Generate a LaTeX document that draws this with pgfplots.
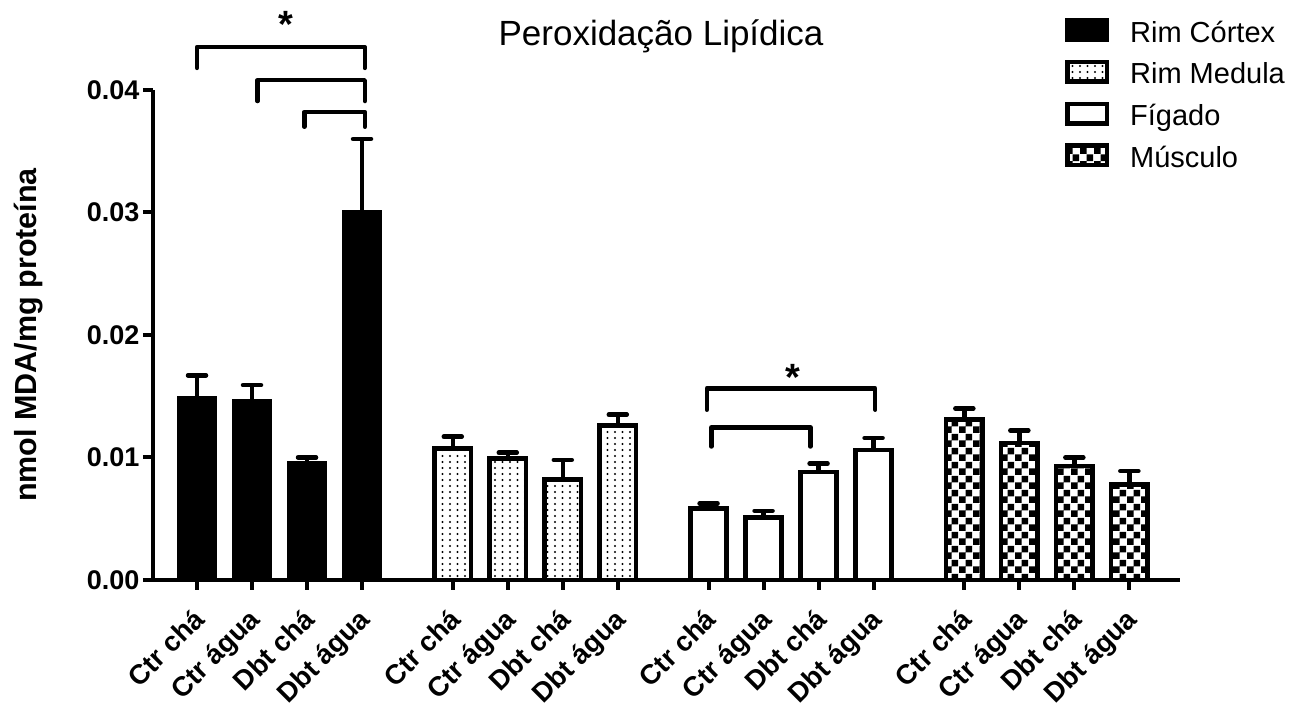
\documentclass[border=0pt]{standalone}
\usepackage{pgfplots}
\pgfplotsset{compat=1.18}
\usepackage{fontspec}
\setmainfont{Liberation Sans}
\usetikzlibrary{patterns}
\pgfdeclarepatternformonly{mydots}{\pgfqpoint{-1.5pt}{-1.5pt}}{\pgfqpoint{1.5pt}{1.5pt}}{\pgfqpoint{7.5pt}{6pt}}{\pgfpathcircle{\pgfpointorigin}{1.15pt}\pgfusepath{fill}}
\pgfdeclarepatternformonly{mychecker}{\pgfpointorigin}{\pgfqpoint{13.5pt}{13.5pt}}{\pgfqpoint{13.5pt}{13.5pt}}{\pgfpathrectangle{\pgfpointorigin}{\pgfqpoint{6.75pt}{6.75pt}}\pgfpathrectangle{\pgfqpoint{6.75pt}{6.75pt}}{\pgfqpoint{6.75pt}{6.75pt}}\pgfusepath{fill}}
\pgfplotsset{
  mylegend/.style={legend image code/.code={\draw[##1, line width=4.5pt] (0pt,2.25pt) rectangle (39.5pt,21.75pt);}},
  mybar/.style={ybar, bar shift=0pt, draw=black, line width=4.5pt,
    error bars/y dir=plus, error bars/y explicit,
    error bars/error mark=|,
    error bars/error bar style={line width=4.5pt, black, solid},
    error bars/error mark options={line width=4.5pt, mark size=9pt, black, line cap=round}},
}
\begin{document}
\begin{tikzpicture}
\begin{axis}[
  scale only axis, width=1027pt, height=490pt,
  xmin=-0.8, xmax=17.87, ymin=0, ymax=0.04,
  axis x line=bottom, axis y line=left,
  axis line style={line width=4.5pt, -},
  every tick/.style={black, line width=4pt},
  major tick length=10pt, tick align=outside,
  scaled y ticks=false,
  xtick={0,1,2,3,4.65,5.65,6.65,7.65,9.3,10.3,11.3,12.3,13.95,14.95,15.95,16.95},
  xticklabels={Ctr chá,Ctr água,Dbt chá,Dbt água,Ctr chá,Ctr água,Dbt chá,Dbt água,Ctr chá,Ctr água,Dbt chá,Dbt água,Ctr chá,Ctr água,Dbt chá,Dbt água},
  ytick={0,0.01,0.02,0.03,0.04},
  yticklabels={0.00,0.01,0.02,0.03,0.04},
  xticklabel style={xshift=-5pt, yshift=-12pt, rotate=45, anchor=north east, font=\bfseries\fontsize{27.5}{30}\selectfont},
  yticklabel style={font=\bfseries\fontsize{27}{30}\selectfont},
  ylabel={nmol MDA/mg proteína},
  ylabel style={at={(axis description cs:-0.1207,0.5)}, anchor=center, font=\bfseries\fontsize{30.5}{33}\selectfont},
  title={Peroxidação Lipídica},
  title style={at={(axis description cs:0.4947,1.097)}, anchor=center, font=\fontsize{35}{40}\selectfont},
  clip=false,
  bar width=0.66,
  legend style={at={(rel axis cs:0.888,1.147)}, anchor=north west, draw=none, fill=none, inner sep=0pt,
    font=\fontsize{29}{32}\selectfont,
    nodes={inner sep=0pt, text height=24pt, text depth=7pt, anchor=base west},
    row sep=10.7pt,
    /tikz/every odd column/.append style={column sep=21pt}},
  legend cell align=left,
]
\addplot[mybar, fill=black, mylegend] coordinates {
 (0,0.0148) +- (0,0.0019)
 (1,0.0146) +- (0,0.0013)
 (2,0.0095) +- (0,0.0005)
 (3,0.0300) +- (0,0.0060)
};
\addlegendentry{Rim Córtex}
\addplot[mybar, fill=white, postaction={pattern=mydots, pattern color=black}, mylegend] coordinates {
 (4.65,0.01075) +- (0,0.00095)
 (5.65,0.0099) +- (0,0.0005)
 (6.65,0.0082) +- (0,0.0016)
 (7.65,0.0126) +- (0,0.0009)
};
\addlegendentry{Rim Medula}
\addplot[mybar, fill=white, mylegend] coordinates {
 (9.3,0.00585) +- (0,0.0004)
 (10.3,0.0051) +- (0,0.00055)
 (11.3,0.0088) +- (0,0.0007)
 (12.3,0.0106) +- (0,0.0010)
};
\addlegendentry{Fígado}
\addplot[mybar, fill=white, postaction={pattern=mychecker, pattern color=black}, mylegend] coordinates {
 (13.95,0.0131) +- (0,0.0009)
 (14.95,0.0112) +- (0,0.0010)
 (15.95,0.0093) +- (0,0.0007)
 (16.95,0.0078) +- (0,0.0011)
};
\addlegendentry{Músculo}
% significance brackets
\draw[line width=4.5pt, line cap=round, line join=round] (axis cs:0,0.0418) -- (axis cs:0,0.0435) -- (axis cs:3.05,0.0435) -- (axis cs:3.05,0.0418);
\draw[line width=4.5pt, line cap=round, line join=round] (axis cs:1.1,0.0391) -- (axis cs:1.1,0.0408) -- (axis cs:3.05,0.0408) -- (axis cs:3.05,0.0391);
\draw[line width=4.5pt, line cap=round, line join=round] (axis cs:1.95,0.0370) -- (axis cs:1.95,0.0382) -- (axis cs:3.05,0.0382) -- (axis cs:3.05,0.0370);
\draw[line width=4.5pt, line cap=round, line join=round] (axis cs:9.27,0.0139) -- (axis cs:9.27,0.01565) -- (axis cs:12.33,0.01565) -- (axis cs:12.33,0.0139);
\draw[line width=4.5pt, line cap=round, line join=round] (axis cs:9.35,0.0109) -- (axis cs:9.35,0.01246) -- (axis cs:11.15,0.01246) -- (axis cs:11.15,0.0109);
\node[anchor=base, font=\bfseries\fontsize{38}{38}\selectfont, inner sep=0pt] at (axis cs:1.62,0.0443) {*};
\node[anchor=base, font=\bfseries\fontsize{38}{38}\selectfont, inner sep=0pt] at (axis cs:10.84,0.01547) {*};
\end{axis}
\pgfresetboundingbox
\path[use as bounding box] (-153pt,-128pt) rectangle (1146pt,580pt);
\end{tikzpicture}
\end{document}
